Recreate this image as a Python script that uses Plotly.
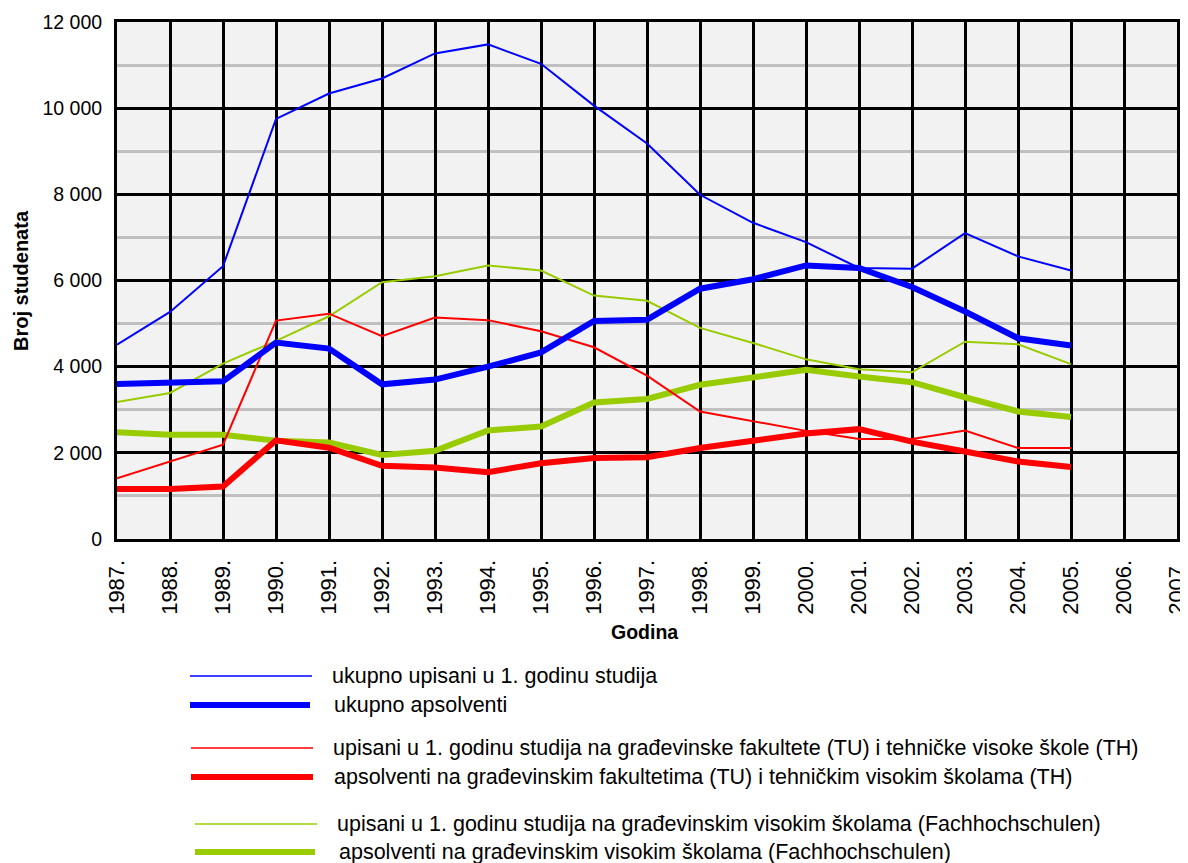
import plotly.graph_objects as go

years = list(range(1987, 2006))
all_years = list(range(1987, 2008))
year_labels = [f"{y}." for y in all_years]

y_ticks = [0, 2000, 4000, 6000, 8000, 10000, 12000]
y_tick_labels = ["0", "2 000", "4 000", "6 000", "8 000", "10 000", "12 000"]

ukupno_upisani = [4510, 5270, 6330, 9750, 10340, 10690, 11270, 11480, 11030, 10060,
                  9180, 7990, 7340, 6890, 6290, 6275, 7100, 6560, 6230]
ukupno_apsolventi = [3600, 3620, 3660, 4560, 4420, 3590, 3700, 4000, 4330, 5060,
                     5090, 5810, 6030, 6350, 6290, 5850, 5280, 4660, 4490]
tu_upisani = [1410, 1800, 2190, 5070, 5230, 4710, 5140, 5080, 4820, 4450,
              3790, 2960, 2730, 2510, 2320, 2320, 2520, 2110, 2110]
tu_apsolventi = [1160, 1160, 1220, 2290, 2120, 1700, 1660, 1550, 1760, 1880,
                 1900, 2110, 2280, 2450, 2550, 2260, 2030, 1800, 1670]
fh_upisani = [3180, 3390, 4070, 4600, 5170, 5960, 6100, 6350, 6230, 5650,
              5530, 4900, 4550, 4170, 3940, 3870, 4580, 4520, 4060]
fh_apsolventi = [2480, 2420, 2420, 2280, 2240, 1950, 2050, 2520, 2610, 3170,
                 3250, 3580, 3750, 3930, 3770, 3640, 3290, 2960, 2830]

names = [
    "ukupno upisani u 1. godinu studija",
    "ukupno apsolventi",
    "upisani u 1. godinu studija na građevinske fakultete (TU) i tehničke visoke škole (TH)",
    "apsolventi na građevinskim fakultetima (TU) i tehničkim visokim školama (TH)",
    "upisani u 1. godinu studija na građevinskim visokim školama (Fachhochschulen)",
    "apsolventi na građevinskim visokim školama (Fachhochschulen)",
]
series = [ukupno_upisani, ukupno_apsolventi, tu_upisani, tu_apsolventi, fh_upisani, fh_apsolventi]
colors = ["#0000FF", "#0000FF", "#FF0000", "#FF0000", "#99CC00", "#99CC00"]
widths = [2, 6, 2, 6, 2, 6]

# page body has an 8px margin, so the figure is offset by 8px
OFF = 8
W, H = 1188 - OFF, 863 - OFF
L, T = 117 - OFF, 22 - OFF
PW, PH = 1060, 517
R = W - L - PW
B = H - T - PH

FONT = "Liberation Sans, Arial, sans-serif"

fig = go.Figure()
draw_order = [4, 5, 2, 3, 0, 1]
for i in draw_order:
    fig.add_trace(go.Scatter(x=years, y=series[i], mode="lines", name=names[i],
                             line=dict(color=colors[i], width=widths[i]),
                             showlegend=False, hoverinfo="x+y"))

def px2paper(px, py):
    # px, py are page pixel positions
    return (px - OFF - L) / PW, (T + PH - (py - OFF)) / PH

legend_rows = [
    (190, 312, 676, 330),
    (190, 310, 705, 332),
    (191, 313, 748, 331),
    (191, 313, 777, 332),
    (195, 317, 824, 335),
    (195, 315, 852, 337),
]
shapes = []
annotations = []
for i, (x0, x1, yy, xt) in enumerate(legend_rows):
    a0, b0 = px2paper(x0, yy)
    a1, _ = px2paper(x1, yy)
    shapes.append(dict(type="line", xref="paper", yref="paper", x0=a0, x1=a1, y0=b0, y1=b0,
                       line=dict(color=colors[i], width=widths[i] if widths[i] > 2 else 1.5)))
    ta, tb = px2paper(xt, yy)
    annotations.append(dict(text=names[i], xref="paper", yref="paper", x=ta, y=tb,
                            xanchor="left", yanchor="middle", showarrow=False,
                            font=dict(family=FONT, size=21.5, color="black")))

ax, ay = px2paper(21, 281)
annotations.append(dict(text="<b>Broj studenata</b>", xref="paper", yref="paper", x=ax, y=ay,
                        textangle=-90, showarrow=False, xanchor="center", yanchor="middle",
                        font=dict(family=FONT, size=20, color="black")))
gx, gy = px2paper(644, 632)
annotations.append(dict(text="<b>Godina</b>", xref="paper", yref="paper", x=gx, y=gy,
                        showarrow=False, xanchor="center", yanchor="middle",
                        font=dict(family=FONT, size=19.5, color="black")))

fig.update_layout(
    width=W, height=H,
    margin=dict(l=L, r=R, t=T, b=B, pad=0, autoexpand=False),
    paper_bgcolor="white",
    plot_bgcolor="#F2F2F2",
    shapes=shapes,
    annotations=annotations,
    font=dict(family=FONT, size=20, color="black"),
)
fig.update_xaxes(
    range=[1987, 2007], tickvals=all_years, ticktext=year_labels, tickangle=-90,
    showgrid=True, gridcolor="black", gridwidth=2.5,
    showline=True, linecolor="black", linewidth=3, mirror=True,
    ticks="", ticklabelstandoff=9, ticklabeloverflow="allow",
    zeroline=False, automargin=False,
    tickfont=dict(family=FONT, size=22),
)
fig.update_yaxes(
    range=[0, 12000], tickvals=y_ticks, ticktext=y_tick_labels,
    showgrid=True, gridcolor="black", gridwidth=2.5,
    minor=dict(dtick=1000, showgrid=True, gridcolor="#C0C0C0", gridwidth=2.5),
    showline=True, linecolor="black", linewidth=3, mirror=True,
    ticks="", ticklabelstandoff=8, zeroline=False, automargin=False,
    tickfont=dict(family=FONT, size=19.5),
)

fig.write_html("out.html")
